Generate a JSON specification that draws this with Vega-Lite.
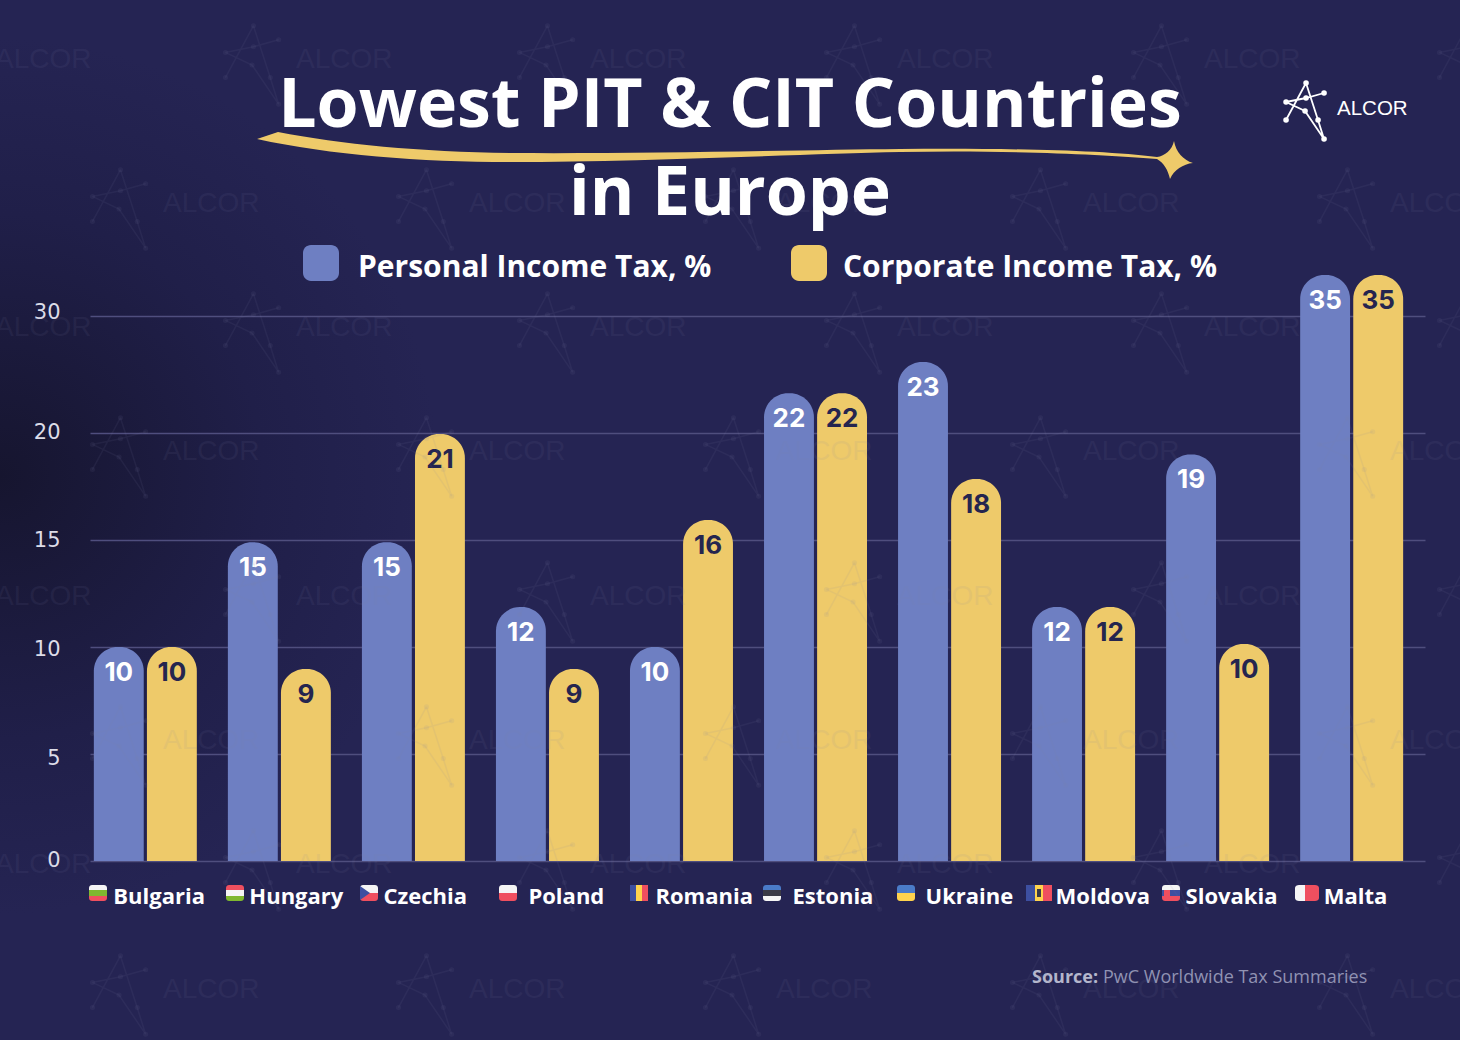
{"$schema":"https://vega.github.io/schema/vega-lite/v6.json","width":1460,"height":1040,"padding":0,"autosize":{"type":"none"},"background":"#252453","view":{"stroke":null,"fill":{"gradient":"radial","x1":0,"y1":0.47,"r1":0,"x2":0,"y2":0.47,"r2":0.3,"stops":[{"offset":0,"color":"#16152f"},{"offset":0.6,"color":"#201f49"},{"offset":1,"color":"#252453"}]}},"title":{"text":["Lowest PIT & CIT Countries","in Europe"],"font":"Open Sans","fontSize":68,"fontWeight":700,"color":"#ffffff","lineHeight":88,"anchor":"middle","frame":"group","orient":"top","offset":-283,"baseline":"alphabetic"},"datasets":{"rates":[{"country":"Bulgaria","tax":"Personal Income Tax, %","rate":10,"axisValue":10},{"country":"Bulgaria","tax":"Corporate Income Tax, %","rate":10,"axisValue":10},{"country":"Hungary","tax":"Personal Income Tax, %","rate":15,"axisValue":14.9},{"country":"Hungary","tax":"Corporate Income Tax, %","rate":9,"axisValue":8.97},{"country":"Czechia","tax":"Personal Income Tax, %","rate":15,"axisValue":14.9},{"country":"Czechia","tax":"Corporate Income Tax, %","rate":21,"axisValue":19.95},{"country":"Poland","tax":"Personal Income Tax, %","rate":12,"axisValue":11.87},{"country":"Poland","tax":"Corporate Income Tax, %","rate":9,"axisValue":8.97},{"country":"Romania","tax":"Personal Income Tax, %","rate":10,"axisValue":10},{"country":"Romania","tax":"Corporate Income Tax, %","rate":16,"axisValue":15.93},{"country":"Estonia","tax":"Personal Income Tax, %","rate":22,"axisValue":23.4},{"country":"Estonia","tax":"Corporate Income Tax, %","rate":22,"axisValue":23.4},{"country":"Ukraine","tax":"Personal Income Tax, %","rate":23,"axisValue":26.07},{"country":"Ukraine","tax":"Corporate Income Tax, %","rate":18,"axisValue":17.85},{"country":"Moldova","tax":"Personal Income Tax, %","rate":12,"axisValue":11.87},{"country":"Moldova","tax":"Corporate Income Tax, %","rate":12,"axisValue":11.87},{"country":"Slovakia","tax":"Personal Income Tax, %","rate":19,"axisValue":19},{"country":"Slovakia","tax":"Corporate Income Tax, %","rate":10,"axisValue":10.14},{"country":"Malta","tax":"Personal Income Tax, %","rate":35,"axisValue":33.5},{"country":"Malta","tax":"Corporate Income Tax, %","rate":35,"axisValue":33.5}],"flags":[{"slot":0,"stripe":"top","colour":"white"},{"slot":0,"stripe":"mid","colour":"green"},{"slot":0,"stripe":"bot","colour":"red"},{"slot":1,"stripe":"top","colour":"red"},{"slot":1,"stripe":"mid","colour":"white"},{"slot":1,"stripe":"bot","colour":"green"},{"slot":2,"stripe":"upper","colour":"white"},{"slot":2,"stripe":"lower","colour":"red"},{"slot":2,"stripe":"wedge","colour":"navy"},{"slot":3,"stripe":"upper","colour":"white"},{"slot":3,"stripe":"lower","colour":"red"},{"slot":4,"stripe":"left","colour":"navy"},{"slot":4,"stripe":"centre","colour":"yellow"},{"slot":4,"stripe":"right","colour":"red"},{"slot":5,"stripe":"top","colour":"blue"},{"slot":5,"stripe":"mid","colour":"dark"},{"slot":5,"stripe":"bot","colour":"white"},{"slot":6,"stripe":"upper","colour":"blue"},{"slot":6,"stripe":"lower","colour":"yellow"},{"slot":7,"stripe":"wideLeft","colour":"navy"},{"slot":7,"stripe":"wideCentre","colour":"yellow"},{"slot":7,"stripe":"wideRight","colour":"red"},{"slot":7,"stripe":"emblem","colour":"dark"},{"slot":8,"stripe":"top","colour":"white"},{"slot":8,"stripe":"mid","colour":"navy"},{"slot":8,"stripe":"bot","colour":"red"},{"slot":8,"stripe":"badge","colour":"red"},{"slot":9,"stripe":"maltaLeft","colour":"white"},{"slot":9,"stripe":"maltaRight","colour":"red"}],"decor":[{"item":"swoosh","slot":0},{"item":"logo","slot":1},{"item":"wordmark","slot":2},{"item":"sourceKey","slot":3},{"item":"sourceText","slot":4}],"tiles":[{"col":0,"row":0},{"col":2,"row":0},{"col":4,"row":0},{"col":6,"row":0},{"col":8,"row":0},{"col":10,"row":0},{"col":1,"row":1},{"col":3,"row":1},{"col":5,"row":1},{"col":7,"row":1},{"col":9,"row":1},{"col":0,"row":2},{"col":2,"row":2},{"col":4,"row":2},{"col":6,"row":2},{"col":8,"row":2},{"col":10,"row":2},{"col":1,"row":3},{"col":3,"row":3},{"col":5,"row":3},{"col":7,"row":3},{"col":9,"row":3},{"col":0,"row":4},{"col":2,"row":4},{"col":4,"row":4},{"col":6,"row":4},{"col":8,"row":4},{"col":10,"row":4},{"col":1,"row":5},{"col":3,"row":5},{"col":5,"row":5},{"col":7,"row":5},{"col":9,"row":5},{"col":0,"row":6},{"col":2,"row":6},{"col":4,"row":6},{"col":6,"row":6},{"col":8,"row":6},{"col":10,"row":6},{"col":1,"row":7},{"col":3,"row":7},{"col":5,"row":7},{"col":7,"row":7},{"col":9,"row":7}]},"resolve":{"scale":{"x":"independent","y":"independent","color":"independent","shape":"independent","size":"independent"}},"layer":[{"data":{"name":"rates"},"encoding":{"x":{"field":"country","type":"nominal","sort":["Bulgaria","Hungary","Czechia","Poland","Romania","Estonia","Ukraine","Moldova","Slovakia","Malta"],"scale":{"range":[90,1425],"paddingInner":0.2,"paddingOuter":0.08,"align":0.08},"axis":{"title":null,"grid":false,"domain":false,"ticks":false,"orient":"bottom","offset":-179,"labelAngle":0,"labelAlign":"left","labelBaseline":"middle","labelPadding":35,"labelFont":"Open Sans","labelFontWeight":700,"labelFontSize":22,"labelColor":"#ffffff","labelOverlap":false,"labelBound":false,"labelFlush":false,"labelLimit":300,"encoding":{"labels":{"dx":{"value":{"signal":"{Bulgaria:-32,Hungary:-30,Czechia:-30,Poland:-19,Romania:-26,Estonia:-23,Ukraine:-24,Moldova:-28,Slovakia:-32,Malta:-28}[datum.value]"}}}}}},"xOffset":{"field":"tax","type":"nominal","sort":["Personal Income Tax, %","Corporate Income Tax, %"],"scale":{"paddingInner":0.06,"paddingOuter":0.04}},"y":{"field":"axisValue","type":"quantitative","stack":null,"scale":{"domain":[0,5,10,15,20,30,40],"range":[861,754,647,540,433,316,199],"nice":false,"zero":false},"axis":{"title":null,"values":[0,5,10,15,20,30],"grid":true,"gridColor":"#4f4e7e","gridWidth":1.5,"domain":false,"ticks":false,"orient":"left","offset":-90,"labelPadding":30,"labelFont":"DejaVu Sans","labelFontSize":21,"labelColor":"#dcdce8","encoding":{"labels":{"dy":{"value":{"signal":"{'30':-4,'20':-1,'15':0,'10':2,'5':4,'0':-1}[datum.value]"}}}}}}},"layer":[{"mark":{"type":"bar","cornerRadiusTopLeft":24,"cornerRadiusTopRight":24},"encoding":{"color":{"field":"tax","type":"nominal","sort":["Personal Income Tax, %","Corporate Income Tax, %"],"scale":{"domain":["Personal Income Tax, %","Corporate Income Tax, %"],"range":["#6e7fc2","#eeca6a"]},"legend":{"title":null,"orient":"none","legendX":303,"legendY":245,"direction":"horizontal","columns":2,"symbolType":"M-0.56,-1H0.56C0.8,-1 1,-0.8 1,-0.56V0.56C1,0.8 0.8,1 0.56,1H-0.56C-0.8,1 -1,0.8 -1,0.56V-0.56C-1,-0.8 -0.8,-1 -0.56,-1Z","symbolSize":1296,"symbolOpacity":1,"symbolStrokeWidth":0,"labelFont":"Open Sans","labelFontWeight":700,"labelFontSize":30,"labelColor":"#ffffff","labelLimit":500,"labelOffset":19,"columnPadding":79,"encoding":{"labels":{"dy":{"value":5},"dx":{"value":{"signal":"datum.value==='Corporate Income Tax, %'?-3:0"}}}}}}}},{"mark":{"type":"text","font":"Inter","fontWeight":700,"fontSize":26,"baseline":"middle","dy":26},"encoding":{"text":{"field":"rate","type":"quantitative"},"color":{"condition":{"test":"datum.tax==='Personal Income Tax, %'","value":"#ffffff"},"value":"#25254f"}}}]},{"data":{"name":"flags"},"mark":{"type":"point","filled":true,"opacity":1,"strokeWidth":0},"encoding":{"x":{"field":"slot","type":"quantitative","axis":null,"scale":{"domain":[0,1,2,3,4,5,6,7,8,9],"range":[98,235,369,508,639,772,906,1039,1171,1307],"nice":false,"zero":false}},"y":{"field":"slot","type":"quantitative","axis":null,"scale":{"domain":[0,9],"range":[893,893],"nice":false,"zero":false}},"size":{"value":4},"shape":{"field":"stripe","type":"nominal","legend":null,"scale":{"domain":["top","mid","bot","upper","lower","wedge","left","centre","right","wideLeft","wideCentre","wideRight","emblem","badge","maltaLeft","maltaRight"],"range":["M-9,-5C-9,-7 -7.5,-8 -6,-8H6C7.5,-8 9,-7 9,-5V-3H-9Z","M-9,-3H9V3H-9Z","M-9,3H9V5C9,7 7.5,8 6,8H-6C-7.5,8 -9,7 -9,5Z","M-9,-5C-9,-7 -7.5,-8 -6,-8H6C7.5,-8 9,-7 9,-5V0H-9Z","M-9,0H9V5C9,7 7.5,8 6,8H-6C-7.5,8 -9,7 -9,5Z","M-9,-7L1,0L-9,7Z","M-9,-8H-3V8H-9Z","M-3,-8H3V8H-3Z","M3,-8H9V8H3Z","M-13,-8H-4V8H-13Z","M-4,-8H4V8H-4Z","M4,-8H13V8H4Z","M-2,-4H2V4H-2Z","M-7,-3H-1V3C-1,4 -3,5 -4,5C-5,5 -7,4 -7,3Z","M-12,-5C-12,-7 -10,-8 -8,-8H-2V8H-8C-10,8 -12,7 -12,5Z","M-2,-8H8C10,-8 12,-7 12,-5V5C12,7 10,8 8,8H-2Z"]}},"color":{"field":"colour","type":"nominal","legend":null,"scale":{"domain":["white","green","red","navy","yellow","blue","dark"],"range":["#f5f5f5","#7fb82f","#ef4f5f","#3d4fa0","#ffd34d","#4a7bc8","#3a3a46"]}}}},{"data":{"name":"decor"},"encoding":{"x":{"field":"slot","type":"quantitative","axis":null,"scale":{"domain":[0,1,2,3,4],"range":[725,1305,1337,1032,1103],"nice":false,"zero":false}},"y":{"field":"slot","type":"quantitative","axis":null,"scale":{"domain":[0,1,2,3,4],"range":[155,111,109,978,978],"nice":false,"zero":false}}},"layer":[{"transform":[{"filter":"datum.item==='swoosh'"}],"mark":{"type":"point","filled":true,"opacity":1,"strokeWidth":0,"size":4,"color":"#eeca6a","shape":"M-468,-16L-447,-23C-385,-11 -305,-3 -215,-2C-85,-1 75,-5 175,-6C275,-7 375,-5 432,2C440,1 447,-5 449,-14C451,-3 458,5 468,8C458,9 449,15 445,24C443,15 439,8 432,4C375,-1 275,-5 175,-3C75,-1 -85,7 -215,7C-305,7 -395,0 -468,-16Z"}},{"transform":[{"filter":"datum.item==='logo'"}],"mark":{"type":"point","filled":false,"opacity":1,"strokeWidth":1.8,"size":4,"color":"#ffffff","shape":"M1,-28L13,9L19,28M1,-28L-19,9M-19,-9L1,-13L19,-18M-19,-9L0,0L19,28"}},{"transform":[{"filter":"datum.item==='logo'"}],"mark":{"type":"point","filled":false,"opacity":1,"strokeWidth":5.5,"strokeCap":"round","size":4,"color":"#ffffff","shape":"M1,-28L1.1,-28M19,-18L19.1,-18M-19,-9L-18.9,-9M-19,9L-18.9,9M0,0L0.1,0M13,9L13.1,9M19,28L19.1,28M1,-13L1.1,-13"}},{"transform":[{"filter":"datum.item==='wordmark'"}],"mark":{"type":"text","text":"ALCOR","font":"Liberation Sans","fontSize":20.5,"color":"#ffffff","align":"left","baseline":"middle"}},{"transform":[{"filter":"datum.item==='sourceKey'"}],"mark":{"type":"text","text":"Source:","font":"Open Sans","fontWeight":700,"fontSize":18,"color":"#b4b6cc","align":"left","baseline":"middle"}},{"transform":[{"filter":"datum.item==='sourceText'"}],"mark":{"type":"text","text":"PwC Worldwide Tax Summaries","font":"Open Sans","fontSize":18,"color":"#9092b2","align":"left","baseline":"middle"}}]},{"data":{"name":"tiles"},"encoding":{"x":{"field":"col","type":"quantitative","axis":null,"scale":{"domain":[0,1,2,3,4,5,6,7,8,9,10],"range":[-5,163,296,469,590,776,897,1083,1204,1390,1510],"nice":false,"zero":false}},"y":{"field":"row","type":"quantitative","axis":null,"scale":{"domain":[0,1,2,3,4,5,6,7],"range":[60,204,328,452,597,741,865,990],"nice":false,"zero":false}}},"layer":[{"mark":{"type":"text","text":"ALCOR","font":"Liberation Sans","fontSize":28,"color":"#8080a8","opacity":0.09,"align":"left","baseline":"middle"}},{"mark":{"type":"point","filled":false,"opacity":0.09,"strokeWidth":1.5,"size":7.84,"color":"#8080a8","xOffset":-44,"yOffset":5,"shape":"M1,-28L13,9L19,28M1,-28L-19,9M-19,-9L1,-13L19,-18M-19,-9L0,0L19,28"}},{"mark":{"type":"point","filled":false,"opacity":0.09,"strokeWidth":5,"strokeCap":"round","size":7.84,"color":"#8080a8","xOffset":-44,"yOffset":5,"shape":"M1,-28L1.1,-28M19,-18L19.1,-18M-19,-9L-18.9,-9M-19,9L-18.9,9M0,0L0.1,0M13,9L13.1,9M19,28L19.1,28M1,-13L1.1,-13"}}]}]}
